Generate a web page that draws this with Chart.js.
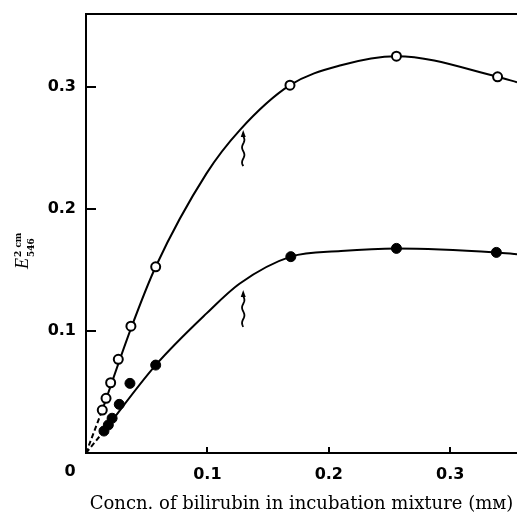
<!DOCTYPE html>
<html>
<head>
<meta charset="utf-8">
<script src="https://cdn.jsdelivr.net/npm/chart.js@4/dist/chart.umd.min.js"></script>
<style>
  html, body { margin: 0; padding: 0; background: #fff; }
  #wrap { width: 517px; height: 515px; position: relative; }
</style>
</head>
<body>
<div id="wrap"><canvas id="c" width="517" height="515"></canvas></div>
<script>
// ---- data ----
const openX   = [0.0134, 0.0165, 0.0203, 0.0266, 0.037, 0.0574, 0.168, 0.2557, 0.339];
const openY   = [0.0352, 0.0448, 0.0576, 0.0768, 0.104, 0.1527, 0.3016, 0.3254, 0.3085];
const filledX = [0.0148, 0.0184, 0.0215, 0.0274, 0.0362, 0.0574, 0.1687, 0.2557, 0.338];
const filledY = [0.018, 0.023, 0.0285, 0.0399, 0.0571, 0.0721, 0.161, 0.1678, 0.1645];

// fitted curves
const upperCurveX = [0.0134, 0.037, 0.0574, 0.0993, 0.1267, 0.168, 0.21, 0.2557, 0.339, 0.355];
const upperCurveY = [0.0352, 0.102, 0.1527, 0.2293, 0.2648, 0.3016, 0.318, 0.3254, 0.3085, 0.304];
const lowerCurveX = [0.0148, 0.0574, 0.0993, 0.1267, 0.1687, 0.21, 0.2557, 0.338, 0.355];
const lowerCurveY = [0.018, 0.0721, 0.1145, 0.139, 0.161, 0.1656, 0.1678, 0.1645, 0.163];
const upperDashX = [0, 0.0134];
const upperDashY = [0, 0.0352];
const lowerDashX = [0, 0.0148];
const lowerDashY = [0, 0.018];

// arrows: x, y of tail, y of tip
const arrows = [
  [0.1295, 0.2352, 0.2648],
  [0.1295, 0.1035, 0.1336]
];

const xTicks = [0.1, 0.2, 0.3];
const xTickLabels = ['0.1', '0.2', '0.3'];
const yTicks = [0.1, 0.2, 0.3];
const yTickLabels = ['0.1', '0.2', '0.3'];
const originLabel = '0';
const xTitle = 'Concn. of bilirubin in incubation mixture (m\u1D0D)';
const yTitleMain = 'E';
const yTitleSup = '2 cm';
const yTitleSub = '546';

const pts = (xs, ys) => xs.map((x, i) => ({x, y: ys[i]}));

const decorPlugin = {
  id: 'decor',
  afterDatasetsDraw(chart) {
    const ctx = chart.ctx;
    const xs = chart.scales.x, ys = chart.scales.y;
    ctx.save();
    ctx.strokeStyle = '#000';
    ctx.fillStyle = '#000';
    arrows.forEach(a => {
      const px = xs.getPixelForValue(a[0]);
      const yTail = ys.getPixelForValue(a[1]);
      const yTip = ys.getPixelForValue(a[2]);
      ctx.lineWidth = 1.8;
      ctx.beginPath();
      const head = 7;
      const start = yTip + head - 1;
      const n = 24;
      for (let i = 0; i <= n; i++) {
        const yy = start + (yTail - start) * i / n;
        const xx = px + Math.sin(i / n * Math.PI * 4) * 1.2;
        if (i === 0) ctx.moveTo(xx, yy); else ctx.lineTo(xx, yy);
      }
      ctx.stroke();
      ctx.beginPath();
      ctx.moveTo(px, yTip);
      ctx.lineTo(px - 2.5, yTip + head);
      ctx.lineTo(px + 2.5, yTip + head);
      ctx.closePath();
      ctx.fill();
    });
    ctx.restore();
  },
  afterDraw(chart) {
    const ctx = chart.ctx;
    const a = chart.chartArea;
    const xs = chart.scales.x, ys = chart.scales.y;
    ctx.save();
    ctx.strokeStyle = '#000';
    ctx.lineWidth = 2;
    // top frame line
    ctx.beginPath();
    ctx.moveTo(a.left - 1, a.top);
    ctx.lineTo(a.right, a.top);
    ctx.stroke();
    // inward ticks
    yTicks.forEach(v => {
      const py = Math.round(ys.getPixelForValue(v));
      ctx.beginPath();
      ctx.moveTo(a.left, py);
      ctx.lineTo(a.left + 10, py);
      ctx.stroke();
    });
    xTicks.forEach(v => {
      const px = Math.round(xs.getPixelForValue(v));
      ctx.beginPath();
      ctx.moveTo(px, a.bottom);
      ctx.lineTo(px, a.bottom - 6);
      ctx.stroke();
    });
    // origin label
    ctx.fillStyle = '#000';
    ctx.font = 'bold 16px "DejaVu Sans"';
    ctx.textAlign = 'center';
    ctx.textBaseline = 'middle';
    ctx.fillText(originLabel, a.left - 16, a.bottom + 19);
    // y title (rotated, with super/subscript)
    ctx.translate(28, 269);
    ctx.rotate(-Math.PI / 2);
    ctx.textAlign = 'left';
    ctx.textBaseline = 'alphabetic';
    ctx.font = 'italic 18px "Liberation Serif"';
    ctx.fillText(yTitleMain, 0, 0);
    const w = ctx.measureText(yTitleMain).width;
    ctx.font = 'bold 9px "DejaVu Serif"';
    ctx.fillText(yTitleSup, w + 1, -7);
    ctx.fillText(yTitleSub, w + 1, 6);
    ctx.restore();
  }
};

new Chart(document.getElementById('c'), {
  type: 'scatter',
  data: {
    datasets: [
      { label: 'open', data: pts(openX, openY), pointRadius: 4.5, pointHoverRadius: 4.5,
        pointBackgroundColor: '#fff', pointBorderColor: '#000', pointBorderWidth: 2, showLine: false },
      { label: 'filled', data: pts(filledX, filledY), pointRadius: 5, pointHoverRadius: 5,
        pointBackgroundColor: '#000', pointBorderColor: '#000', pointBorderWidth: 1, showLine: false },
      { label: 'upperCurve', data: pts(upperCurveX, upperCurveY), showLine: true, pointRadius: 0,
        borderColor: '#000', borderWidth: 2, cubicInterpolationMode: 'monotone', fill: false },
      { label: 'lowerCurve', data: pts(lowerCurveX, lowerCurveY), showLine: true, pointRadius: 0,
        borderColor: '#000', borderWidth: 2, cubicInterpolationMode: 'monotone', fill: false },
      { label: 'upperDash', data: pts(upperDashX, upperDashY), showLine: true, pointRadius: 0,
        borderColor: '#000', borderWidth: 2, borderDash: [5, 3], fill: false },
      { label: 'lowerDash', data: pts(lowerDashX, lowerDashY), showLine: true, pointRadius: 0,
        borderColor: '#000', borderWidth: 2, borderDash: [5, 3], fill: false }
    ]
  },
  options: {
    responsive: false,
    animation: false,
    events: [],
    clip: false,
    layout: { autoPadding: false, padding: { left: 0, right: 0, top: 14, bottom: 0 } },
    plugins: { legend: { display: false }, tooltip: { enabled: false } },
    scales: {
      x: {
        type: 'linear', min: 0, max: 0.355,
        grid: { display: false, drawTicks: false },
        border: { display: true, color: '#000', width: 2 },
        afterBuildTicks: s => { s.ticks = xTicks.map(v => ({value: v})); },
        afterFit: s => { s.height = 62; s.paddingLeft = 0; s.paddingRight = 0; },
        ticks: {
          padding: 12, color: '#000', font: { family: 'DejaVu Sans', size: 16, weight: 'bold' },
          maxRotation: 0, autoSkip: false,
          callback: (v, i) => xTickLabels[i]
        },
        title: {
          display: true, text: xTitle, color: '#000',
          font: { family: 'DejaVu Serif', size: 18 }, padding: { top: 0, bottom: 0 }
        }
      },
      y: {
        type: 'linear', min: 0, max: 0.36,
        grid: { display: false, drawTicks: false },
        border: { display: true, color: '#000', width: 2 },
        afterBuildTicks: s => { s.ticks = yTicks.map(v => ({value: v})); },
        afterFit: s => { s.width = 86; s.paddingTop = 0; s.paddingBottom = 0; },
        ticks: {
          padding: 10, color: '#000', font: { family: 'DejaVu Sans', size: 16, weight: 'bold' },
          autoSkip: false,
          callback: (v, i) => yTickLabels[i]
        }
      }
    }
  },
  plugins: [decorPlugin]
});
</script>
</body>
</html>
